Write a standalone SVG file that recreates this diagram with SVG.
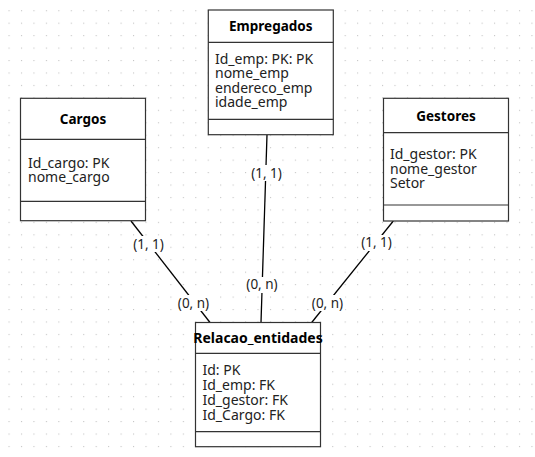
<svg xmlns="http://www.w3.org/2000/svg" width="535" height="457" viewBox="0 0 535 457">
<style>
.box{fill:#fff;stroke:#333;stroke-width:1.2}
.sep{stroke:#333;stroke-width:1.2;fill:none}
.title{font-family:"Noto Sans","DejaVu Sans",sans-serif;font-weight:bold;font-size:13.5px;fill:#000;text-anchor:middle}
.body{font-family:"Noto Sans","DejaVu Sans",sans-serif;font-size:14px;fill:#222}
.edge{stroke:#000;stroke-width:1.3;fill:none}
.lbl{font-family:"Noto Sans","DejaVu Sans",sans-serif;font-size:13.5px;fill:#222;text-anchor:middle}
.lblbg{fill:#fff}
</style>
<defs>
<pattern id="grid" patternUnits="userSpaceOnUse" x="8.5" y="10.2" width="12.45" height="12.45">
<rect x="0" y="0" width="1.1" height="1.1" fill="#c4c4c4"/>
</pattern>
</defs>
<rect width="535" height="457" fill="#fff"/>
<rect width="535" height="457" fill="url(#grid)"/>

<g id="connectors">
<line class="edge" x1="131" y1="221" x2="210" y2="322.5"/>
<line class="edge" x1="267" y1="134.7" x2="261" y2="322.5"/>
<line class="edge" x1="393.3" y1="221" x2="311.7" y2="322.5"/>
<rect class="lblbg" x="132" y="236" width="33" height="16"/>
<text class="lbl" x="148.5" y="248.5">(1, 1)</text>
<rect class="lblbg" x="176" y="295" width="35" height="16"/>
<text class="lbl" x="193.5" y="307.5">(0, n)</text>
<rect class="lblbg" x="250" y="165" width="33" height="16"/>
<text class="lbl" x="266.5" y="177.5">(1, 1)</text>
<rect class="lblbg" x="244.5" y="277" width="35" height="16"/>
<text class="lbl" x="262" y="289">(0, n)</text>
<rect class="lblbg" x="360" y="235" width="33" height="16"/>
<text class="lbl" x="376.5" y="247">(1, 1)</text>
<rect class="lblbg" x="310" y="295" width="35" height="16"/>
<text class="lbl" x="327.5" y="307.5">(0, n)</text>
</g>

<g id="empregados">
<rect class="box" x="208.3" y="10" width="125" height="124.7"/>
<line class="sep" x1="208.3" y1="42.3" x2="333.3" y2="42.3"/>
<line class="sep" x1="208.3" y1="119.3" x2="333.3" y2="119.3"/>
<text class="title" x="270.8" y="31">Empregados</text>
<text class="body" x="215" y="63.5">Id_emp: PK: PK</text>
<text class="body" x="215" y="78">nome_emp</text>
<text class="body" x="215" y="92.5">endereco_emp</text>
<text class="body" x="215" y="107">idade_emp</text>
</g>

<g id="cargos">
<rect class="box" x="20.5" y="98.3" width="125" height="122.4"/>
<line class="sep" x1="20.5" y1="139.3" x2="145.5" y2="139.3"/>
<line class="sep" x1="20.5" y1="201.3" x2="145.5" y2="201.3"/>
<text class="title" x="83" y="124">Cargos</text>
<text class="body" x="28" y="167.5">Id_cargo: PK</text>
<text class="body" x="28" y="182">nome_cargo</text>
</g>

<g id="gestores">
<rect class="box" x="383.5" y="98.3" width="125" height="122.7"/>
<line class="sep" x1="383.5" y1="132.7" x2="508.5" y2="132.7"/>
<line class="sep" x1="383.5" y1="205" x2="508.5" y2="205"/>
<text class="title" x="446" y="121">Gestores</text>
<text class="body" x="390" y="159">Id_gestor: PK</text>
<text class="body" x="390" y="173.5">nome_gestor</text>
<text class="body" x="390" y="188">Setor</text>
</g>

<g id="relacao">
<rect class="box" x="195.5" y="322.5" width="125" height="124.2"/>
<line class="sep" x1="195.5" y1="353.3" x2="320.5" y2="353.3"/>
<line class="sep" x1="195.5" y1="431.7" x2="320.5" y2="431.7"/>
<text class="title" x="258" y="343.3" style="font-size:14px">Relacao_entidades</text>
<text class="body" x="202.5" y="375">Id: PK</text>
<text class="body" x="202.5" y="390">Id_emp: FK</text>
<text class="body" x="202.5" y="405">Id_gestor: FK</text>
<text class="body" x="202.5" y="420">Id_Cargo: FK</text>
</g>
</svg>
